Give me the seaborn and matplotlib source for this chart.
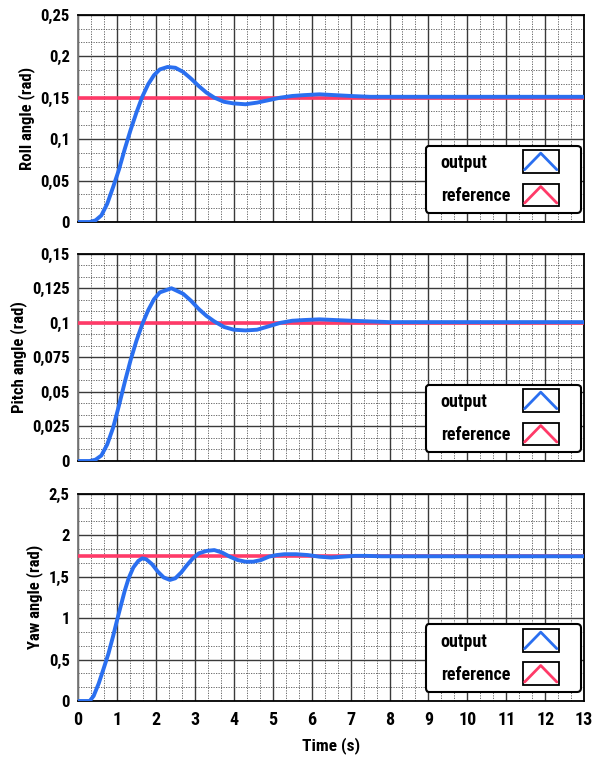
import numpy as np
import pandas as pd
import matplotlib
matplotlib.use('Agg')
import matplotlib.pyplot as plt
import seaborn as sns
from matplotlib.legend_handler import HandlerBase
from matplotlib.patches import Rectangle
from matplotlib.lines import Line2D
from matplotlib.offsetbox import DrawingArea
from matplotlib.ticker import FuncFormatter, MultipleLocator, AutoMinorLocator

# step responses
roll_t = [0, 0.3, 0.45, 0.6, 0.75, 0.9, 1.05, 1.2, 1.35, 1.5, 1.65, 1.8, 1.95, 2.1, 2.3,
          2.5, 2.7, 2.9, 3.1, 3.3, 3.5, 3.75, 4.0, 4.3, 4.6, 4.9, 5.2, 5.5, 5.8, 6.2,
          6.6, 7.0, 7.5, 8, 9, 10, 11, 12, 13]
roll_out = [0, 0, 0.002, 0.008, 0.022, 0.042, 0.063, 0.088, 0.111, 0.132, 0.151, 0.166, 0.177,
            0.184, 0.187, 0.186, 0.181, 0.173, 0.164, 0.156, 0.150, 0.145, 0.143, 0.142, 0.144,
            0.147, 0.150, 0.152, 0.153, 0.154, 0.153, 0.152, 0.151, 0.151, 0.151, 0.151,
            0.151, 0.151, 0.151]
roll_ref = 0.15

pitch_t = [0, 0.3, 0.45, 0.6, 0.75, 0.9, 1.05, 1.2, 1.35, 1.5, 1.65, 1.8, 1.95, 2.1, 2.4,
           2.7, 2.9, 3.1, 3.3, 3.5, 3.75, 4.0, 4.3, 4.6, 4.9, 5.2, 5.5, 5.8, 6.2, 6.6,
           7.0, 7.5, 8, 9, 10, 11, 12, 13]
pitch_out = [0, 0, 0.001, 0.004, 0.012, 0.024, 0.040, 0.057, 0.073, 0.087, 0.099, 0.109,
             0.117, 0.122, 0.125, 0.121, 0.116, 0.110, 0.105, 0.101, 0.097, 0.095, 0.0945,
             0.095, 0.0975, 0.100, 0.1015, 0.102, 0.1025, 0.102, 0.1015, 0.101, 0.1005,
             0.1005, 0.1005, 0.1005, 0.1005, 0.1005]
pitch_ref = 0.1

yaw_t = [0, 0.3, 0.4, 0.53, 0.65, 0.78, 0.9, 1.0, 1.1, 1.2, 1.3, 1.42, 1.55, 1.65, 1.75,
         1.9, 2.05, 2.2, 2.36, 2.5, 2.65, 2.8, 2.95, 3.1, 3.3, 3.5, 3.7, 3.9, 4.1, 4.3,
         4.5, 4.7, 4.9, 5.1, 5.3, 5.6, 5.9, 6.2, 6.5, 6.8, 7.1, 7.4, 7.8, 8.5, 10, 13]
yaw_out = [0, 0, 0.06, 0.21, 0.38, 0.57, 0.78, 0.97, 1.15, 1.33, 1.48, 1.61, 1.69, 1.72,
           1.71, 1.65, 1.56, 1.49, 1.46, 1.48, 1.55, 1.64, 1.72, 1.78, 1.81, 1.82, 1.79,
           1.74, 1.70, 1.68, 1.68, 1.70, 1.74, 1.76, 1.77, 1.77, 1.76, 1.74, 1.73, 1.74,
           1.75, 1.75, 1.745, 1.745, 1.745, 1.745]
yaw_ref = 1.745

panels = [
    ('Roll angle (rad)', roll_t, roll_out, roll_ref, 0.25, 0.05),
    ('Pitch angle (rad)', pitch_t, pitch_out, pitch_ref, 0.15, 0.025),
    ('Yaw angle (rad)', yaw_t, yaw_out, yaw_ref, 2.5, 0.5),
]

blue = '#2a6ff0'
red = '#ff3a68'

sns.set_style('white')
plt.rcParams['font.family'] = ['Roboto Condensed', 'Roboto', 'DejaVu Sans']
plt.rcParams['text.color'] = 'black'
plt.rcParams['xtick.color'] = 'black'
plt.rcParams['ytick.color'] = 'black'
plt.rcParams['axes.labelcolor'] = 'black'


class BoxHandler(HandlerBase):
    # little boxed "^" swatch like the LabVIEW plot legend (box on the left part,
    # the rest of the handle area is right padding)
    def create_artists(self, legend, orig, xd, yd, w, h, fs, trans):
        bw = 0.72 * w
        box = Rectangle((-xd, -yd - 0.25 * h), bw, 1.5 * h, facecolor='white',
                        edgecolor='black', lw=1.3, transform=trans)
        ln = Line2D([-xd + 0.05 * bw, -xd + 0.5 * bw, -xd + 0.95 * bw],
                    [-yd - 0.05 * h, -yd + 1.05 * h, -yd - 0.05 * h],
                    color=orig.get_color(), lw=2, transform=trans)
        return [box, ln]


fig = plt.figure(figsize=(5.92, 7.58), dpi=100)
bottoms = [0.7071, 0.3918, 0.0752]
comma = FuncFormatter(lambda v, p: ('%g' % round(v, 4)).replace('.', ','))
legends = []

for i, (label, t, y, ref, ymax, ystep) in enumerate(panels):
    ax = fig.add_axes([0.1318, bottoms[i], 0.855, 0.2735])
    df = pd.DataFrame({'t': t, 'y': y})
    sns.lineplot(data=df, x='t', y='y', ax=ax, color=blue, lw=2.8, label='output', zorder=4)
    ax.axhline(ref, color=red, lw=2.6, label='reference', zorder=3)

    ax.set_xlim(0, 13)
    ax.set_ylim(0, ymax)
    ax.xaxis.set_major_locator(MultipleLocator(1))
    ax.xaxis.set_minor_locator(AutoMinorLocator(3))
    ax.yaxis.set_major_locator(MultipleLocator(ystep))
    ax.yaxis.set_minor_locator(AutoMinorLocator(3))
    ax.yaxis.set_major_formatter(comma)
    ax.grid(which='major', color='#3a3a3a', lw=1.0, ls='-')
    ax.grid(which='minor', color='#555555', lw=0.6, ls=(0, (1.5, 1.5)))
    ax.set_axisbelow(True)
    ax.tick_params(axis='y', which='major', direction='out', length=5, width=1,
                   labelsize=12, pad=1)
    ax.tick_params(axis='x', which='major', direction='out', length=3, width=1,
                   labelsize=13, pad=4)
    ax.tick_params(which='minor', length=0)
    for tl in ax.get_yticklabels() + ax.get_xticklabels():
        tl.set_fontweight('bold')
    for s in ax.spines.values():
        s.set_color('black')
        s.set_linewidth(1.3)
    ax.spines['left'].set_color('#777777')
    ax.set_ylabel(label, fontsize=12, labelpad=4, fontweight='semibold')
    if i < 2:
        ax.set_xticklabels([])
        ax.set_xlabel('')
    else:
        ax.set_xlabel('Time (s)', fontsize=12.5, labelpad=6, fontweight='semibold')

    h, l = ax.get_legend_handles_labels()
    leg = ax.legend(h, l, loc='lower right', bbox_to_anchor=(0.993, 0.043),
                    handler_map={Line2D: BoxHandler()}, markerfirst=False,
                    fontsize=13, handlelength=2.75, handleheight=0.9,
                    labelspacing=0.85, borderpad=0.45, handletextpad=0.35,
                    borderaxespad=0, fancybox=True, framealpha=1, edgecolor='black')
    leg.get_frame().set_linewidth(1.5)
    for txt in leg.get_texts():
        txt.set_fontweight('semibold')
    legends.append(leg)

# left padding spacer and a gap box so the labels line up on the left
fig.canvas.draw()
r = fig.canvas.get_renderer()
for leg in legends:
    widths = [tx.get_window_extent(r).width * 72 / fig.dpi for tx in leg.get_texts()]
    rows = leg._legend_handle_box.get_children()[0].get_children()
    for row, w in zip(rows, widths):
        kids = row.get_children()
        kids.insert(0, DrawingArea(0.5, 1))
        kids.insert(2, DrawingArea(max(widths) - w, 1))

fig.savefig('out.png', dpi=100)
